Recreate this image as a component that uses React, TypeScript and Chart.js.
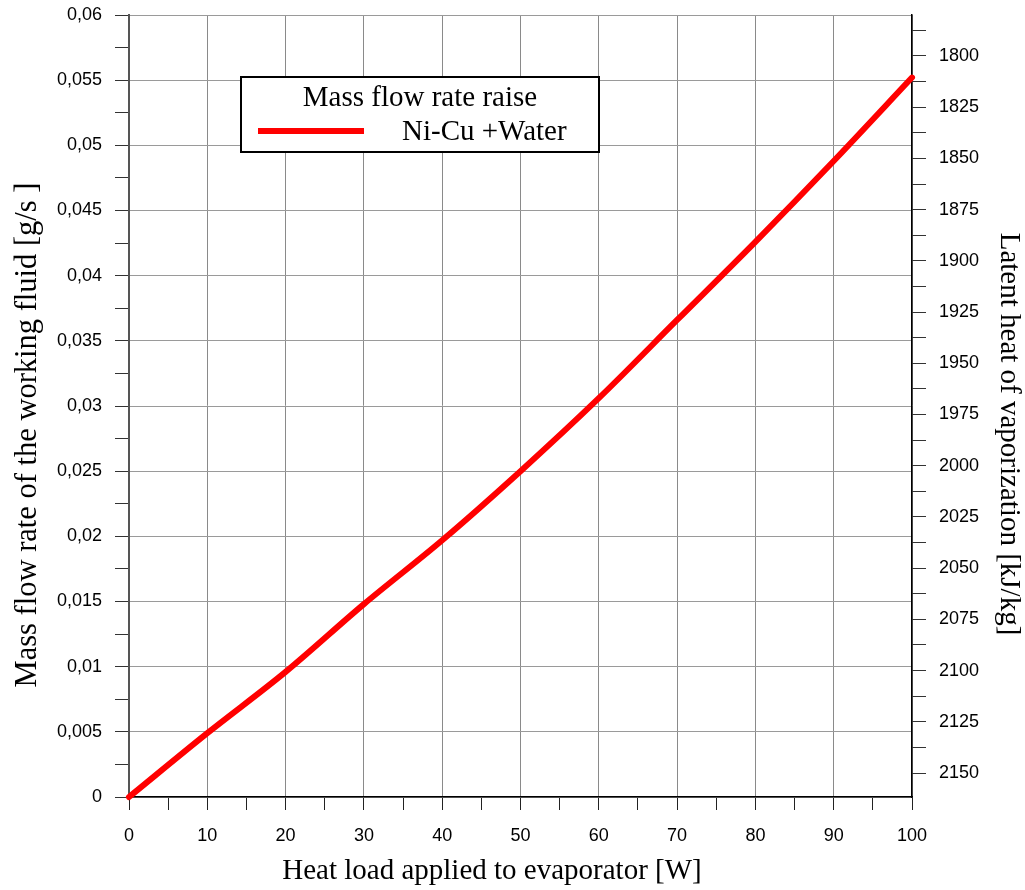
import React, { useEffect, useRef } from "react";
import { Chart, registerables } from "chart.js";

Chart.register(...registerables);

// ---- data ----
const heatLoad = [0, 10, 20, 30, 40, 50, 60, 70, 80, 90, 100];
const massFlow = [0, 0.0049, 0.0096, 0.0148, 0.0197, 0.025, 0.0306, 0.0366, 0.0426, 0.0488, 0.0552];

const seriesLabel = "Ni-Cu +Water";
const legendTitle = "Mass flow rate raise";

const xTickValues = [0, 5, 10, 15, 20, 25, 30, 35, 40, 45, 50, 55, 60, 65, 70, 75, 80, 85, 90, 95, 100];
const xTickLabels = ["0", "", "10", "", "20", "", "30", "", "40", "", "50", "", "60", "", "70", "", "80", "", "90", "", "100"];

const leftTickValues = [
  0, 0.0025, 0.005, 0.0075, 0.01, 0.0125, 0.015, 0.0175, 0.02, 0.0225, 0.025, 0.0275, 0.03,
  0.0325, 0.035, 0.0375, 0.04, 0.0425, 0.045, 0.0475, 0.05, 0.0525, 0.055, 0.0575, 0.06,
];
const leftTickLabels = [
  "0", "", "0,005", "", "0,01", "", "0,015", "", "0,02", "", "0,025", "", "0,03",
  "", "0,035", "", "0,04", "", "0,045", "", "0,05", "", "0,055", "", "0,06",
];

const rightTickValues = [
  1787.5, 1800, 1812.5, 1825, 1837.5, 1850, 1862.5, 1875, 1887.5, 1900, 1912.5, 1925, 1937.5,
  1950, 1962.5, 1975, 1987.5, 2000, 2012.5, 2025, 2037.5, 2050, 2062.5, 2075, 2087.5, 2100,
  2112.5, 2125, 2137.5, 2150,
];
const rightTickLabels = [
  "", "1800", "", "1825", "", "1850", "", "1875", "", "1900", "", "1925", "",
  "1950", "", "1975", "", "2000", "", "2025", "", "2050", "", "2075", "", "2100",
  "", "2125", "", "2150",
];

const xTitle = "Heat load applied to evaporator [W]";
const yTitle = "Mass flow rate of the working fluid [g/s ]";
const y1Title = "Latent heat of vaporization [kJ/kg]";

const SERIF = "'Liberation Serif', 'Times New Roman', serif";
const SANS = "'Liberation Sans', Arial, sans-serif";

const zeroPad = (s: any) => {
  s.paddingTop = 0;
  s.paddingBottom = 0;
  s.paddingLeft = 0;
  s.paddingRight = 0;
};

const titlesPlugin = {
  id: "axisTitles",
  afterDraw(chart: any) {
    const ctx = chart.ctx;
    ctx.save();
    ctx.fillStyle = "#000000";
    ctx.textAlign = "center";
    ctx.textBaseline = "middle";
    ctx.font = `29px ${SERIF}`;
    ctx.fillText(xTitle, 492, 871);
    ctx.save();
    ctx.font = `30.5px ${SERIF}`;
    ctx.translate(28, 435);
    ctx.rotate(-Math.PI / 2);
    ctx.fillText(yTitle, 0, 0);
    ctx.restore();
    ctx.save();
    ctx.font = `29px ${SERIF}`;
    ctx.translate(1009, 434);
    ctx.rotate(Math.PI / 2);
    ctx.fillText(y1Title, 0, 0);
    ctx.restore();
    ctx.restore();
  },
};

const legendPlugin = {
  id: "boxLegend",
  afterDraw(chart: any) {
    const ctx = chart.ctx;
    const ds = chart.data.datasets[0];
    ctx.save();
    ctx.fillStyle = "#ffffff";
    ctx.fillRect(241, 77, 358, 75);
    ctx.strokeStyle = "#000000";
    ctx.lineWidth = 2;
    ctx.strokeRect(241, 77, 358, 75);
    ctx.fillStyle = "#000000";
    ctx.font = `29px ${SERIF}`;
    ctx.textAlign = "center";
    ctx.textBaseline = "alphabetic";
    ctx.fillText(legendTitle, 420, 106);
    ctx.strokeStyle = ds.borderColor;
    ctx.lineWidth = 6;
    ctx.lineCap = "butt";
    ctx.beginPath();
    ctx.moveTo(258, 131);
    ctx.lineTo(364, 131);
    ctx.stroke();
    ctx.textAlign = "left";
    ctx.fillText(ds.label, 402, 140);
    ctx.restore();
  },
};

export default function App() {
  const ref = useRef<HTMLCanvasElement | null>(null);

  useEffect(() => {
    if (!ref.current) return;
    const chart = new Chart(ref.current, {
      type: "line",
      data: {
        datasets: [
          {
            label: seriesLabel,
            data: heatLoad.map((x, i) => ({ x, y: massFlow[i] })),
            borderColor: "#ff0000",
            backgroundColor: "#ff0000",
            borderWidth: 6,
            borderCapStyle: "round",
            borderJoinStyle: "round",
            pointRadius: 0,
            cubicInterpolationMode: "monotone",
            clip: false as any,
            yAxisID: "y",
          },
        ],
      },
      options: {
        responsive: false,
        animation: false,
        layout: { padding: { top: 15, left: 0, right: 0, bottom: 0 } },
        plugins: {
          legend: { display: false },
          tooltip: { enabled: false },
        },
        scales: {
          x: {
            type: "linear",
            min: 0,
            max: 100,
            afterBuildTicks: (s: any) => {
              s.ticks = xTickValues.map((v) => ({ value: v }));
            },
            afterFit: (s: any) => {
              s.height = 93;
              zeroPad(s);
            },
            ticks: {
              autoSkip: false,
              maxRotation: 0,
              padding: 15,
              color: "#000",
              font: { family: SANS, size: 18 },
              callback: (_v: any, i: number) => xTickLabels[i],
            },
            grid: {
              color: (c: any) => (c.tick && c.tick.value % 10 === 0 ? "#8a8a8a" : "rgba(0,0,0,0)"),
              tickColor: "#222",
              tickLength: 13,
              lineWidth: 1,
            },
            border: { display: true, color: "#000", width: 1.5 },
          },
          y: {
            type: "linear",
            position: "left",
            min: 0,
            max: 0.06,
            afterBuildTicks: (s: any) => {
              s.ticks = leftTickValues.map((v) => ({ value: v }));
            },
            afterFit: (s: any) => {
              s.width = 129;
              zeroPad(s);
            },
            ticks: {
              autoSkip: false,
              padding: 13,
              color: "#000",
              font: { family: SANS, size: 18 },
              callback: (_v: any, i: number) => leftTickLabels[i],
            },
            grid: {
              color: (c: any) =>
                c.tick && leftTickLabels[c.index] !== "" ? "#9a9a9a" : "rgba(0,0,0,0)",
              tickColor: "#333",
              tickLength: 14,
              lineWidth: 1,
            },
            border: { display: true, color: "#555", width: 2 },
          },
          y1: {
            type: "linear",
            position: "right",
            min: 1780,
            max: 2161.7,
            reverse: true,
            afterBuildTicks: (s: any) => {
              s.ticks = rightTickValues.map((v) => ({ value: v }));
            },
            afterFit: (s: any) => {
              s.width = 113;
              zeroPad(s);
            },
            ticks: {
              autoSkip: false,
              padding: 13,
              color: "#000",
              font: { family: SANS, size: 18 },
              callback: (_v: any, i: number) => rightTickLabels[i],
            },
            grid: {
              drawOnChartArea: false,
              tickColor: "#333",
              tickLength: 14,
            },
            border: { display: true, color: "#000", width: 1.5 },
          },
        },
      } as any,
      plugins: [legendPlugin, titlesPlugin],
    });
    return () => chart.destroy();
  }, []);

  return (
    <canvas
      ref={ref}
      width={1025}
      height={890}
      style={{ position: "absolute", left: 0, top: 0, width: 1025, height: 890 }}
    />
  );
}
